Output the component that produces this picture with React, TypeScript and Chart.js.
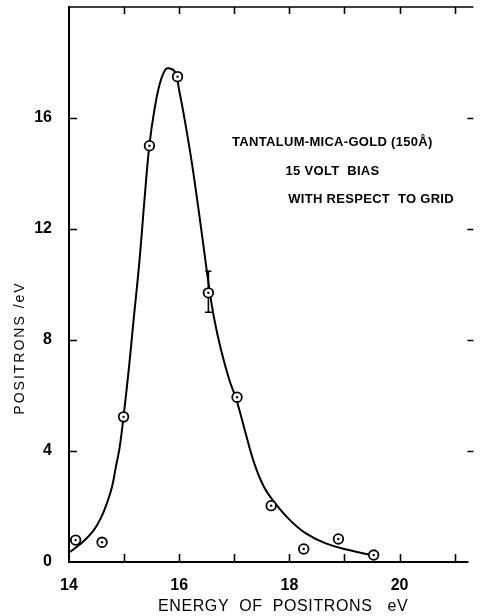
import React, { useEffect, useRef } from 'react';
import { Chart, registerables } from 'chart.js';

Chart.register(...registerables);

// Measured data points (energy in eV, positrons/eV)
const energy = [14.12, 14.6, 14.99, 15.46, 15.97, 16.53, 17.05, 17.67, 18.26, 18.89, 19.53];
const positrons = [0.79, 0.71, 5.23, 15.0, 17.49, 9.7, 5.94, 2.03, 0.47, 0.83, 0.25];

// Hand-drawn fitted curve, sampled along its length
const curveEnergy = [
  14.02, 14.27, 14.44, 14.58, 14.69, 14.78, 14.85, 14.92, 14.99, 15.09, 15.16, 15.28, 15.38,
  15.46, 15.55, 15.65, 15.75, 15.82, 15.92, 16.01, 16.11, 16.23, 16.39, 16.55, 16.64, 16.76,
  16.91, 17.04, 17.19, 17.36, 17.54, 17.74, 18.01, 18.3, 18.66, 19.08, 19.49, 19.55,
];
const curvePositrons = [
  0.36, 0.76, 1.12, 1.59, 2.13, 2.7, 3.42, 4.14, 5.24, 7.04, 8.47, 10.88, 13.3,
  15.03, 16.29, 17.25, 17.75, 17.79, 17.67, 16.89, 15.82, 14.38, 12.14, 9.8, 8.72, 7.64,
  6.56, 5.84, 4.76, 3.57, 2.7, 2.12, 1.51, 1.03, 0.67, 0.43, 0.25, 0.22,
];

// Error bar on one point
const errorEnergy = [16.53];
const errorLow = [9.0];
const errorHigh = [10.48];

// Axes
const xMin = 14;
const xMax = 21.34;
const xStep = 1;
const xLabelled = [14, 16, 18, 20];
const yMin = 0;
const yMax = 20;
const yStep = 4;
const yLabelled = [0, 4, 8, 12, 16];

// Texts
const annotationLines = ['TANTALUM-MICA-GOLD (150Å)', '15 VOLT  BIAS', 'WITH RESPECT  TO GRID'];
const annotationX = [16.96, 17.93, 17.98];
const annotationY = [15.0, 13.95, 12.93];
const xTitle = 'ENERGY  OF  POSITRONS   eV';
const yTitle = 'POSITRONS /eV';

const FONT = '"Liberation Sans", Arial, sans-serif';

const framePlugin = {
  id: 'frame',
  beforeDatasetsDraw(chart: any) {
    const { ctx, scales } = chart;
    const x = scales.x;
    const y = scales.y;
    ctx.save();
    ctx.strokeStyle = '#000';
    ctx.lineWidth = 1.6;
    errorEnergy.forEach((e, i) => {
      const px = x.getPixelForValue(e);
      const p1 = y.getPixelForValue(errorLow[i]);
      const p2 = y.getPixelForValue(errorHigh[i]);
      ctx.beginPath();
      ctx.moveTo(px, p1);
      ctx.lineTo(px, p2);
      ctx.moveTo(px - 3.5, p1);
      ctx.lineTo(px + 3.5, p1);
      ctx.moveTo(px - 3, p2);
      ctx.lineTo(px + 3, p2);
      ctx.stroke();
    });
    ctx.restore();
  },
  afterDraw(chart: any) {
    const { ctx, chartArea: a, scales } = chart;
    const x = scales.x;
    const y = scales.y;
    ctx.save();
    ctx.strokeStyle = '#000';
    ctx.lineCap = 'butt';
    // left axis
    ctx.lineWidth = 2;
    ctx.beginPath();
    ctx.moveTo(a.left, a.top - 1);
    ctx.lineTo(a.left, a.bottom + 1);
    ctx.stroke();
    // bottom axis
    ctx.beginPath();
    ctx.moveTo(a.left - 1, a.bottom);
    ctx.lineTo(a.right - 5, a.bottom);
    ctx.stroke();
    // top frame
    ctx.lineWidth = 1.5;
    ctx.beginPath();
    ctx.moveTo(a.left, a.top);
    ctx.lineTo(a.right, a.top);
    ctx.stroke();
    // y ticks (inward on left, short dashes on right)
    ctx.lineWidth = 1.6;
    y.ticks.forEach((t: any) => {
      if (t.value <= y.min || t.value >= y.max) return;
      const py = Math.round(y.getPixelForValue(t.value)) + 0.5;
      ctx.beginPath();
      ctx.moveTo(a.left, py);
      ctx.lineTo(a.left + 8, py);
      ctx.moveTo(a.right - 6, py);
      ctx.lineTo(a.right, py);
      ctx.stroke();
    });
    // x ticks (inward, bottom and top)
    x.ticks.forEach((t: any) => {
      if (t.value <= x.min || t.value >= x.max) return;
      const px = Math.round(x.getPixelForValue(t.value)) + 0.5;
      ctx.beginPath();
      ctx.moveTo(px, a.bottom);
      ctx.lineTo(px, a.bottom - 8);
      ctx.moveTo(px, a.top);
      ctx.lineTo(px, a.top + 7);
      ctx.stroke();
    });
    // annotation
    ctx.fillStyle = '#000';
    ctx.font = `bold 13px ${FONT}`;
    ctx.textAlign = 'left';
    ctx.textBaseline = 'alphabetic';
    (ctx as any).letterSpacing = '0.3px';
    annotationLines.forEach((line, i) => {
      ctx.fillText(line, x.getPixelForValue(annotationX[i]), y.getPixelForValue(annotationY[i]));
    });
    // x title
    ctx.font = `16px ${FONT}`;
    (ctx as any).letterSpacing = '0.6px';
    ctx.textBaseline = 'middle';
    ctx.textAlign = 'left';
    ctx.fillText(xTitle, 158, 607);
    // y title
    ctx.font = `14px ${FONT}`;
    (ctx as any).letterSpacing = '2px';
    ctx.translate(20, 348);
    ctx.rotate(-Math.PI / 2);
    ctx.textAlign = 'center';
    ctx.textBaseline = 'middle';
    ctx.fillText(yTitle, 0, 0);
    ctx.restore();
  },
};

export default function App() {
  const ref = useRef<HTMLCanvasElement | null>(null);

  useEffect(() => {
    if (!ref.current) return;
    const points = energy.map((e, i) => ({ x: e, y: positrons[i] }));
    const curve = curveEnergy.map((e, i) => ({ x: e, y: curvePositrons[i] }));
    const chart = new Chart(ref.current, {
      type: 'line',
      data: {
        datasets: [
          {
            label: 'centers',
            data: points,
            showLine: false,
            pointRadius: 1.2,
            pointBorderWidth: 0,
            pointBackgroundColor: '#000',
            pointHoverRadius: 1.2,
          },
          {
            label: 'measured',
            data: points,
            showLine: false,
            pointRadius: 4.8,
            pointBorderWidth: 1.8,
            pointBorderColor: '#000',
            pointBackgroundColor: '#fff',
            pointHoverRadius: 4.8,
          },
          {
            label: 'curve',
            data: curve,
            borderColor: '#000',
            borderWidth: 2,
            pointRadius: 0,
            pointHoverRadius: 0,
            tension: 0.4,
            fill: false,
          },
        ],
      },
      options: {
        responsive: false,
        animation: false,
        devicePixelRatio: 1,
        layout: { padding: { top: 7, right: 0, bottom: 0, left: 0 } },
        plugins: {
          legend: { display: false },
          tooltip: { enabled: false },
        },
        events: [],
        scales: {
          x: {
            type: 'linear',
            min: xMin,
            max: xMax,
            grid: { display: false, drawTicks: false },
            border: { display: false },
            ticks: {
              stepSize: xStep,
              includeBounds: false,
              autoSkip: false,
              maxRotation: 0,
              padding: 14,
              color: '#000',
              font: { family: FONT, size: 16, weight: 'bold' },
              callback: (v: any) => (xLabelled.includes(Number(v)) ? String(v) : ''),
            },
            afterFit: (s: any) => {
              s.height = 54;
              s.paddingLeft = 0;
              s.paddingRight = 0;
              s.paddingTop = 0;
              s.paddingBottom = 0;
            },
          },
          y: {
            type: 'linear',
            min: yMin,
            max: yMax,
            grid: { display: false, drawTicks: false },
            border: { display: false },
            ticks: {
              stepSize: yStep,
              autoSkip: false,
              padding: 17,
              color: '#000',
              font: { family: FONT, size: 16, weight: 'bold' },
              callback: (v: any) => (yLabelled.includes(Number(v)) ? String(v) : ''),
            },
            afterFit: (s: any) => {
              s.width = 69;
              s.paddingLeft = 0;
              s.paddingRight = 0;
              s.paddingTop = 0;
              s.paddingBottom = 0;
            },
          },
        },
      },
      plugins: [framePlugin],
    });
    return () => chart.destroy();
  }, []);

  return (
    <div style={{ position: 'absolute', left: 0, top: 0, width: 480, height: 616, background: '#fff' }}>
      <canvas ref={ref} width={480} height={616} style={{ display: 'block' }} />
    </div>
  );
}
